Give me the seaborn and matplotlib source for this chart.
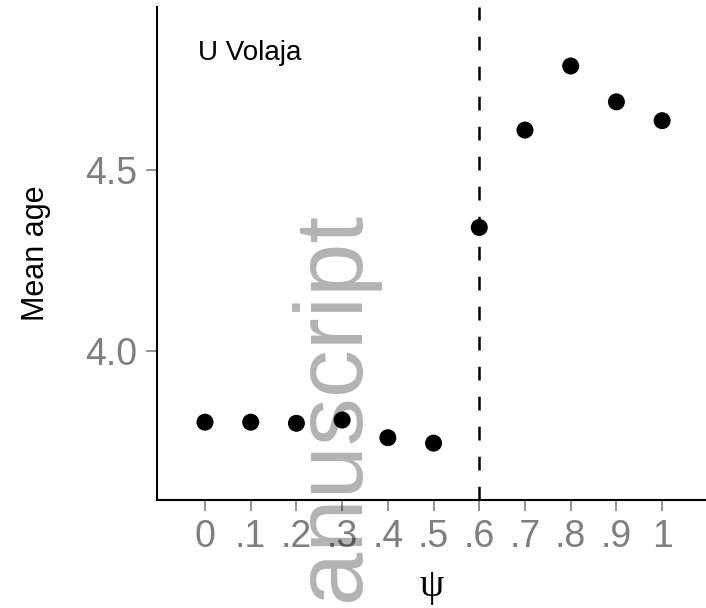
import matplotlib
matplotlib.use("Agg")
import matplotlib.pyplot as plt
import seaborn as sns
import pandas as pd

# Data: mean age for each value of psi
psi = [0.0, 0.1, 0.2, 0.3, 0.4, 0.5, 0.6, 0.7, 0.8, 0.9, 1.0]
mean_age = [3.803, 3.803, 3.800, 3.809, 3.760, 3.745, 4.341, 4.610, 4.787, 4.688, 4.636]
x_tick_labels = ["0", ".1", ".2", ".3", ".4", ".5", ".6", ".7", ".8", ".9", "1"]
y_ticks = [4.0, 4.5]
y_tick_labels = ["4.0", "4.5"]
threshold = 0.6
panel_label = "U Volaja"

df = pd.DataFrame({"psi": psi, "mean_age": mean_age})

sns.set_theme(style="white")
plt.rcParams["font.family"] = ["Liberation Sans", "DejaVu Sans"]

fig = plt.figure(figsize=(7.06, 6.08), dpi=100)
ax = fig.add_axes([157 / 706, 1 - 500 / 608, 1 - 157 / 706, (500 - 7) / 608])

ax.axvline(threshold, color="black", linewidth=1.8, linestyle=(0, (5.5, 6.5)), zorder=1)

sns.scatterplot(data=df, x="psi", y="mean_age", ax=ax, s=150, color="black",
                edgecolor="none", linewidth=0, zorder=3, legend=False)

ax.set_xlim(-0.105, 1.096)
ax.set_ylim(3.588, 4.950)

ax.set_xticks(psi)
ax.set_xticklabels(x_tick_labels)
ax.set_yticks(y_ticks)
ax.set_yticklabels(y_tick_labels)

ax.tick_params(axis="both", which="major", length=8, width=1.2, color="#7f7f7f",
               labelcolor="#7f7f7f", labelsize=27, direction="out",
               bottom=True, left=True)
ax.tick_params(axis="x", pad=6)
ax.tick_params(axis="y", pad=6)

for side in ["top", "right"]:
    ax.spines[side].set_visible(False)
for side in ["left", "bottom"]:
    ax.spines[side].set_color("black")
    ax.spines[side].set_linewidth(1.5)

ax.set_xlabel("ψ", fontsize=28, family=["Liberation Serif", "DejaVu Serif"],
              color="black", labelpad=9)
ax.set_ylabel("Mean age", fontsize=22, color="black", labelpad=25)

ax.text((198 - 157) / 549, (500 - 60) / 493, panel_label, transform=ax.transAxes,
        fontsize=20, color="black", ha="left", va="baseline")

# Journal watermark running up the page
fig.text(357 / 706, 1 - 209 / 608, "manuscript", rotation=90, rotation_mode="anchor",
         ha="right", va="baseline", fontsize=69, color="black", alpha=0.3, zorder=10)

fig.savefig("out.png", dpi=100)
